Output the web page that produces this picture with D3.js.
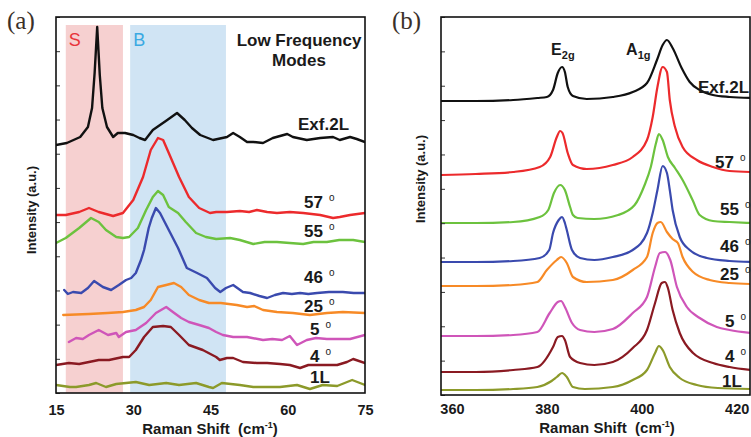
<!DOCTYPE html>
<html>
<head>
<meta charset="utf-8">
<script src="https://cdn.jsdelivr.net/npm/d3@7"></script>
<style>
  html, body { margin: 0; padding: 0; background: #ffffff; }
  svg { display: block; }
</style>
</head>
<body>
<svg id="chart" width="751" height="437"></svg>
<script>
// ---------- Data: low-frequency Raman spectra, [shift (cm-1), intensity (a.u., offset)] ----------
const lowExf2L = [[15.0,248],[17.1,250],[19.7,256],[21.2,266],[22.0,285],[22.5,320],[23.0,366],[23.5,318],[24.0,285],[24.9,266],[26.1,256],[27.0,260],[28.4,260],[30.0,258],[31.2,255],[32.3,253],[33.8,263],[35.2,268],[36.6,273],[38.5,280],[40.0,273],[41.4,265],[43.0,258],[45.5,253],[48.2,256],[49.4,260],[50.7,256],[52.1,251],[53.3,251],[55.2,250],[57.1,255],[58.5,257],[59.9,259],[61.0,256],[63.7,253],[66.3,255],[68.8,256],[70.1,253],[72.1,256],[73.4,254],[75.0,251]];
const low57 = [[15.0,178],[16.9,178],[19.5,181],[21.4,185],[23.3,181],[26.1,177],[28.0,180],[30.0,193],[31.9,216],[33.4,243],[34.8,255],[35.8,253],[36.9,240],[38.9,216],[40.8,196],[42.8,185],[44.9,180],[46.1,181],[48.2,181],[50.7,182],[52.5,181],[54.0,183],[56.0,181],[57.9,180],[60.4,181],[63.0,180],[66.3,178],[68.8,175],[70.1,176],[72.1,178],[75.0,180]];
const low55 = [[15.0,150],[16.9,155],[19.5,165],[21.8,175],[23.3,171],[24.7,163],[26.7,156],[28.0,155],[29.2,156],[30.9,165],[32.5,183],[33.8,196],[34.8,202],[35.8,198],[36.9,186],[38.7,180],[40.2,171],[42.2,160],[44.1,156],[46.1,154],[48.8,155],[50.7,153],[53.3,149],[55.5,151],[57.9,151],[60.4,150],[63.0,149],[65.0,151],[67.6,151],[70.0,153],[72.7,153],[75.0,151]];
const low46 = [[16.6,103],[17.3,99],[18.3,101],[19.9,100],[21.2,105],[22.4,112],[24.1,106],[25.7,103],[27.2,108],[28.6,113],[29.6,115],[30.5,120],[31.5,133],[32.1,143],[33.0,165],[33.6,175],[34.4,185],[35.2,180],[36.2,170],[37.1,161],[38.7,145],[40.4,125],[42.4,120],[44.3,115],[45.9,105],[46.9,101],[48.0,105],[49.4,108],[51.3,101],[52.7,100],[54.5,97],[56.0,95],[57.5,98],[59.1,100],[60.8,99],[62.4,100],[64.0,99],[65.7,100],[68.0,101],[70.7,101],[72.8,100],[75.0,100]];
const low25 = [[16.4,78],[21.4,79],[25.0,80],[28.0,81],[30.5,83],[32.1,86],[33.4,93],[34.8,106],[36.4,108],[37.9,110],[39.3,106],[40.8,98],[42.8,93],[44.7,90],[47.0,90],[50.1,88],[52.1,86],[53.5,87],[55.2,83],[57.9,81],[61.0,80],[64.3,78],[67.6,80],[70.7,81],[75.0,80]];
const low5 = [[17.5,51],[18.9,55],[20.2,54],[21.4,58],[23.3,63],[25.1,58],[26.7,60],[27.2,56],[28.6,61],[30.5,63],[32.5,70],[34.4,80],[36.4,86],[37.7,81],[39.3,75],[40.8,71],[42.8,68],[44.7,65],[46.1,61],[47.4,58],[49.4,56],[52.1,56],[55.2,53],[57.0,54],[58.9,53],[60.4,57],[61.8,48],[63.7,53],[65.5,55],[67.6,54],[70.0,54],[72.1,54],[75.0,58]];
const low4 = [[15.0,28],[17.5,30],[19.5,29],[21.4,31],[23.3,33],[25.3,33],[28.0,36],[29.2,36],[30.5,43],[32.1,56],[33.8,66],[35.8,67],[37.3,66],[38.9,58],[40.8,48],[43.5,43],[46.1,36],[46.8,33],[48.2,35],[49.4,35],[51.3,31],[54.0,30],[56.0,30],[58.5,29],[60.4,28],[62.4,25],[64.0,28],[65.7,28],[67.8,28],[69.6,28],[71.5,31],[72.7,34],[75.0,30]];
const low1L = [[15.0,8],[17.7,6],[18.9,6],[21.4,8],[22.8,10],[24.7,6],[26.7,9],[28.6,10],[30.5,11],[33.1,8],[36.4,10],[38.9,8],[42.2,10],[44.7,6],[45.5,5],[47.2,10],[50.7,8],[53.3,6],[55.2,6],[58.5,6],[61.8,8],[64.3,4],[66.8,8],[69.6,7],[72.5,13],[75.0,8]];

// ---------- Data: high-frequency Raman spectra (E2g / A1g) ----------
const highExf2L = [[357.7,294],[365,294],[372.9,295],[378,297],[380.0,298],[381.3,305],[382.3,322],[383.2,328],[383.8,323],[384.4,308],[385.5,299],[388.4,296],[393.9,298],[398.1,303],[401.1,312],[403.2,335],[404.4,350],[405.3,355],[406.5,347],[408.4,327],[410.1,313],[412.2,305],[415.0,300],[418.5,298],[423,297]];
const high57 = [[357.7,220],[365,221],[372.9,223],[378.5,228],[380.7,238],[382.1,258],[382.8,264],[383.3,262],[384.4,242],[385.5,230],[388.4,226],[393.9,230],[398.1,238],[401.1,255],[402.3,278],[403.3,308],[404.4,328],[405.3,323],[405.9,295],[407.0,268],[408.6,248],[411.6,235],[415.0,228],[418.5,224],[423,223]];
const high55 = [[357.7,172],[365,172],[372.9,173],[378.5,178],[380.3,185],[381.5,202],[382.8,210],[383.8,205],[384.9,188],[385.5,180],[386.5,177],[390,176],[395,180],[398.5,190],[400.6,210],[401.9,228],[403.0,252],[403.6,261],[404.4,255],[405.5,238],[407.0,227],[408.6,215],[410.7,195],[412.2,180],[415.0,174],[418.5,173],[423,172]];
const high46 = [[357.7,133],[365,133],[372.9,134],[378.5,137],[380.5,145],[381.3,162],[382.5,175],[383.2,178],[383.8,172],[384.2,165],[385.3,145],[387.0,137],[390,135],[393.9,138],[398.1,145],[401.1,162],[402.3,182],[403.3,205],[404.4,229],[405.3,222],[405.9,205],[406.5,185],[408.0,158],[410.1,145],[413.7,137],[418.5,134],[423,133]];
const high25 = [[357.7,109],[365,109],[372.9,110],[378,113],[380.0,125],[382.1,135],[383.0,138],[384.2,132],[385.5,118],[388.4,113],[393.9,115],[398.1,125],[401.1,138],[402.3,162],[403.3,172],[404.0,173],[405.3,163],[406.5,156],[407.6,152],[408.6,138],[410.8,123],[414.3,115],[418.5,112],[423,111]];
const high5 = [[357.7,59],[365,59],[372.9,60],[378,63],[380.6,82],[382.3,93],[383.0,94],[383.8,88],[385.3,72],[387.0,65],[390,63],[393.9,66],[398.1,82],[401.1,98],[402.8,128],[403.8,142],[404.9,143],[406.0,135],[407.4,108],[409.5,88],[412.2,77],[415.8,68],[418.5,65],[423,62]];
const high4 = [[357.7,23],[365,23],[372.9,25],[378,28],[381.3,48],[382.3,58],[383.2,59],[383.8,55],[384.9,38],[387.0,32],[390,30],[393.9,33],[398.1,47],[401.1,65],[402.8,92],[404.2,112],[404.9,113],[405.5,107],[406.5,85],[408.0,62],[410.8,42],[415.0,32],[418.5,28],[423,25]];
const high1L = [[357.7,5],[365,5],[372.9,6],[378,8],[381.0,14],[382.1,18],[383.2,22],[384.2,18],[385.5,8],[388,6],[393.9,8],[398.1,15],[401.1,25],[402.8,42],[403.6,49],[404.4,45],[405.9,28],[408.0,17],[411.6,10],[416,7],[423,6]];

// Sample names; the twisted bilayers carry an angle mark
const sampleNames = ["Exf.2L", "57", "55", "46", "25", "5", "4", "1L"];
const sampleIsAngle = [false, true, true, true, true, true, true, false];

// Axis ticks
const xTicksLow = [15, 30, 45, 60, 75];
const xTicksHigh = [360, 380, 400, 420];

// Shaded mode regions (cm-1): shear (S) and breathing (B)
const bandS = [16.9, 28.0];
const bandB = [29.4, 48.0];
const bandTop = 368;
const bandNames = ["S", "B"];

// Mode names for the high-frequency panel
const modeNames = [["E", "2g"], ["A", "1g"]];

// ---------- Styles ----------
const SANS = "Arial, 'Liberation Sans', sans-serif";
const SERIF = "'Liberation Serif', 'Times New Roman', serif";
const lineColors = ["#111111", "#ec2a2c", "#6cc23e", "#3a4aae", "#f78a26", "#cf55b9", "#8a1a22", "#8c9a2a"];
const bandFills = ["#f6d0d0", "#d0e4f4"];
const bandTextColors = ["#e8343a", "#3aa9e2"];
const textColor = "#1a1a1a";

const svg = d3.select("#chart").style("font-family", SANS);

function drawPanel(cfg) {
  const g = svg.append("g");
  const x = d3.scaleLinear().domain(cfg.xDomain).range([cfg.left, cfg.right]);
  const y = d3.scaleLinear().domain(cfg.yDomain).range([cfg.bottom, cfg.top]);

  const clipId = "clip-" + cfg.id;
  svg.append("clipPath").attr("id", clipId)
    .append("rect")
    .attr("x", cfg.left).attr("y", cfg.top)
    .attr("width", cfg.right - cfg.left).attr("height", cfg.bottom - cfg.top);

  const plot = g.append("g").attr("clip-path", `url(#${clipId})`);

  // shaded bands
  (cfg.bands || []).forEach((b, i) => {
    plot.append("rect")
      .attr("x", x(b[0])).attr("width", x(b[1]) - x(b[0]))
      .attr("y", y(bandTop)).attr("height", y(0) - y(bandTop) + 2)
      .attr("fill", bandFills[i]);
  });

  // y ticks (no labels)
  const yAxis = d3.axisLeft(y).tickValues(cfg.yTicks).tickSize(-4).tickFormat("");
  g.append("g").attr("transform", `translate(${cfg.left},0)`).call(yAxis)
    .call(s => s.select(".domain").remove())
    .call(s => s.selectAll("line").attr("stroke", "#333").attr("stroke-width", 1));

  // spectra
  const line = d3.line().x(d => x(d[0])).y(d => y(d[1])).curve(cfg.curve);
  cfg.series.forEach((data, i) => {
    plot.append("path").datum(data)
      .attr("d", line)
      .attr("fill", "none")
      .attr("stroke", lineColors[i])
      .attr("stroke-width", cfg.lineWidth)
      .attr("stroke-linejoin", "round")
      .attr("stroke-linecap", "round");
  });

  // frame
  g.append("rect")
    .attr("x", cfg.left).attr("y", cfg.top)
    .attr("width", cfg.right - cfg.left).attr("height", cfg.bottom - cfg.top)
    .attr("fill", "none").attr("stroke", "#111").attr("stroke-width", 1.6);

  // x axis labels
  const xAxis = d3.axisBottom(x).tickValues(cfg.xTicks).tickSize(0);
  const xg = g.append("g").attr("transform", `translate(0,${cfg.bottom})`).call(xAxis);
  xg.select(".domain").remove();
  xg.selectAll("text")
    .attr("y", cfg.tickLabelOffset).attr("dy", null)
    .style("font-family", SANS)
    .style("font-size", "14.5px").style("font-weight", "bold").attr("fill", textColor);

  // axis titles
  const xt = g.append("text")
    .attr("x", cfg.xTitleX).attr("y", cfg.xTitleY)
    .attr("text-anchor", "middle")
    .style("font-size", "15px").style("font-weight", "bold").attr("fill", textColor);
  xt.append("tspan").text("Raman Shift\u00a0\u00a0(cm");
  xt.append("tspan").text("-1").style("font-size", "9px").attr("dy", -6);
  xt.append("tspan").text(")").attr("dy", 6);

  g.append("text")
    .attr("transform", `translate(${cfg.yTitleX},${cfg.yTitleY}) rotate(-90)`)
    .attr("text-anchor", "middle")
    .style("font-size", "13px").style("font-weight", "bold").attr("fill", textColor)
    .text("Intensity (a.u.)");

  // panel letter
  g.append("text")
    .attr("x", cfg.letterX).attr("y", 29)
    .style("font-family", SERIF)
    .style("font-size", "25px").attr("fill", "#3b3029")
    .text(cfg.letter);

  // sample labels
  cfg.labels.forEach((p, i) => {
    const t = g.append("text")
      .attr("x", p[0]).attr("y", p[1])
      .style("font-size", "17px").style("font-weight", "bold").attr("fill", textColor);
    t.append("tspan").text(sampleNames[i]);
    if (sampleIsAngle[i]) {
      t.append("tspan").text("o").attr("dx", 6).attr("dy", -7)
        .style("font-size", "10px").style("font-weight", "normal");
    }
  });

  return { g, x, y };
}

// Panel (a): low-frequency modes
const pa = drawPanel({
  id: "a", letter: "(a)", letterX: 7,
  left: 56, right: 365, top: 17, bottom: 393,
  xDomain: [15, 75], yDomain: [0, 376],
  xTicks: xTicksLow, yTicks: d3.range(0, 377, 376 / 11),
  bands: [bandS, bandB],
  series: [lowExf2L, low57, low55, low46, low25, low5, low4, low1L],
  curve: d3.curveLinear, lineWidth: 2.4,
  tickLabelOffset: 22,
  xTitleX: 210, xTitleY: 434, yTitleX: 36, yTitleY: 210,
  labels: [[298, 130], [304, 208], [304, 237], [304, 283], [304, 312], [310, 335], [310, 362], [310, 383]]
});

bandNames.forEach((n, i) => {
  const b = i === 0 ? bandS : bandB;
  pa.g.append("text")
    .attr("x", pa.x(b[0]) + 3).attr("y", 46)
    .style("font-size", "18px").attr("fill", bandTextColors[i])
    .text(n);
});

pa.g.append("text").attr("x", 299).attr("y", 46).attr("text-anchor", "middle")
  .style("font-size", "17px").style("font-weight", "bold").attr("fill", textColor)
  .text("Low Frequency");
pa.g.append("text").attr("x", 299).attr("y", 66).attr("text-anchor", "middle")
  .style("font-size", "17px").style("font-weight", "bold").attr("fill", textColor)
  .text("Modes");

// Panel (b): E2g and A1g modes
const pb = drawPanel({
  id: "b", letter: "(b)", letterX: 392,
  left: 441, right: 750, top: 17, bottom: 395,
  xDomain: [357.7, 422.8], yDomain: [0, 378],
  xTicks: xTicksHigh, yTicks: d3.range(0, 379, 378 / 11),
  bands: [],
  series: [highExf2L, high57, high55, high46, high25, high5, high4, high1L],
  curve: d3.curveMonotoneX, lineWidth: 2.2,
  tickLabelOffset: 19,
  xTitleX: 607, xTitleY: 433, yTitleX: 425, yTitleY: 179,
  labels: [[698, 93], [715, 168], [720, 215], [720, 252], [720, 280], [725, 327], [725, 362], [722, 387]]
});

// mode labels with subscripts, placed left of each peak
const modeLabelX = [380.9, 396.7];
modeNames.forEach((m, i) => {
  const t = pb.g.append("text")
    .attr("x", pb.x(modeLabelX[i])).attr("y", 55)
    .style("font-size", "16px").style("font-weight", "bold").attr("fill", textColor);
  t.append("tspan").text(m[0]);
  t.append("tspan").text(m[1]).style("font-size", "11px").attr("dy", 4);
});
</script>
</body>
</html>
